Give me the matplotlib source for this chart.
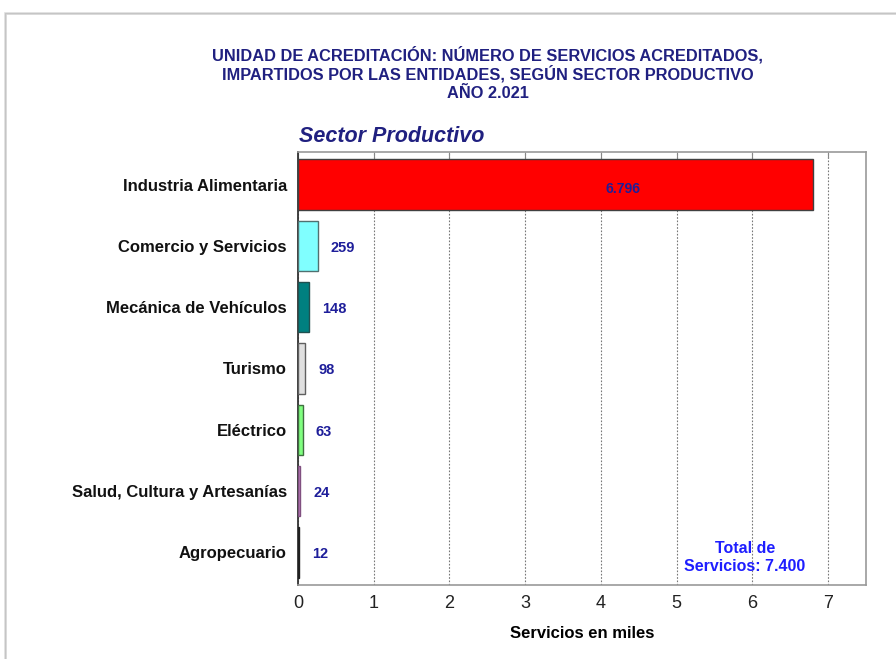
import matplotlib
matplotlib.use("Agg")
import matplotlib.pyplot as plt
from matplotlib.patches import Rectangle

plt.rcParams['font.family'] = ['Liberation Sans', 'DejaVu Sans']

categories = ["Industria Alimentaria", "Comercio y Servicios", "Mecánica de Vehículos",
              "Turismo", "Eléctrico", "Salud, Cultura y Artesanías", "Agropecuario"]
servicios = [6796, 259, 148, 98, 63, 24, 12]
value_labels = ["6.796", "259", "148", "98", "63", "24", "12"]
bar_colors = ["#FF0000", "#80FFFF", "#008080", "#E0E0E0", "#80FF80", "#C080C0", "#404040"]
edge_colors = ["#404040", "#507070", "#205050", "#606060", "#407040", "#805080", "#202020"]
x_ticks = [0, 1, 2, 3, 4, 5, 6, 7]
title_lines = ["UNIDAD DE ACREDITACIÓN: NÚMERO DE SERVICIOS ACREDITADOS,",
               "IMPARTIDOS POR LAS ENTIDADES, SEGÚN SECTOR PRODUCTIVO",
               "AÑO 2.021"]
total_label = "Total de\nServicios: 7.400"

navy = "#202080"
label_blue = "#1E1E9A"

fig = plt.figure(figsize=(8.96, 6.59), dpi=100)
fig.patch.set_facecolor("white")

# framed panel with soft shadow
for i, a in enumerate([0.10, 0.18, 0.35]):
    fig.patches.append(Rectangle((4.5 / 896 + i * 0.0011, -0.1), 1.2, 1 - (12.5 + i * 0.8) / 659 + 0.1,
                                 transform=fig.transFigure, fill=False,
                                 edgecolor=(0.5, 0.5, 0.5, a), linewidth=1.2, zorder=0))

ax = fig.add_axes([298 / 896, 1 - 585 / 659, 568 / 896, 433 / 659])

vals = [v / 1000 for v in servicios]
ypos = list(range(len(categories)))
ax.barh(ypos, vals, height=0.82, color=bar_colors, edgecolor=edge_colors, linewidth=1.0, zorder=3)

ax.set_ylim(len(categories) - 0.47, -0.53)
ax.set_xlim(0, 7.5)
ax.set_yticks(ypos)
ax.set_yticklabels(categories, fontsize=12, fontweight="bold", color="#111111")
ax.tick_params(axis="y", length=0, pad=8)
ax.set_xticks(x_ticks)
ax.set_xticklabels([str(t) for t in x_ticks], fontsize=13, color="#222222")
ax.tick_params(axis="x", length=0, pad=7)
ax.tick_params(axis="x", which="major", top=True, bottom=False, length=4,
               direction="in", color="#888888")

ax.grid(axis="x", linestyle=(0, (1.5, 1.5)), color="#777777", linewidth=0.8, zorder=1)
for side in ["top", "right", "bottom"]:
    ax.spines[side].set_color("#999999")
    ax.spines[side].set_linewidth(1.2)
ax.spines["left"].set_color("#333333")
ax.spines["left"].set_linewidth(1.3)

for i, (v, lab) in enumerate(zip(vals, value_labels)):
    if v > 3:
        ax.text(v * 0.632, i + 0.08, lab, ha="center", va="center", fontsize=10,
                fontweight="bold", color=label_blue, zorder=4)
    else:
        ax.annotate(lab, (v, i + 0.03), xytext=(9.5, 0), textcoords="offset points",
                    ha="left", va="center", fontsize=10.5, fontweight="bold",
                    color=label_blue, zorder=4)

ax.text(5.9, 6.08, total_label, ha="center", va="center", fontsize=11.5,
        fontweight="bold", color="#1E1EFF", linespacing=1.25, zorder=4)

ax.set_xlabel("Servicios en miles", fontsize=12, fontweight="bold", labelpad=10)

for k, line in enumerate(title_lines):
    fig.text(488 / 896, 1 - (55 + 19 * k) / 659, line, ha="center", va="center",
             fontsize=11.8, fontweight="bold", color=navy)
fig.text(299 / 896, 1 - 137 / 659, "Sector Productivo", ha="left", va="center",
         fontsize=15.5, fontweight="bold", fontstyle="italic", color=navy)

fig.savefig("out.png", dpi=100, facecolor="white")
